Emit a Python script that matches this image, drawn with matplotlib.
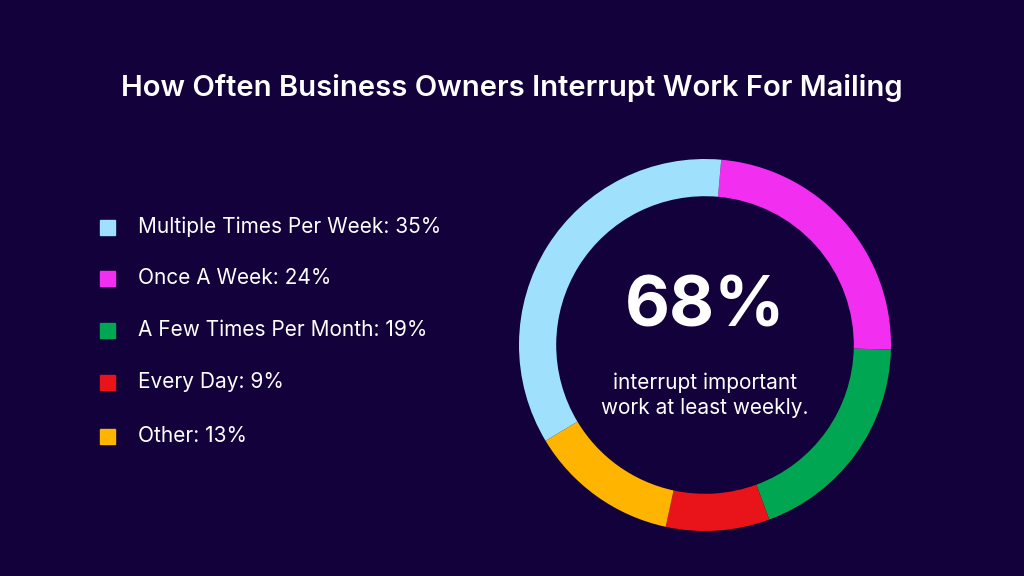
import matplotlib.pyplot as plt

plt.rcParams['font.family'] = ['Inter', 'DejaVu Sans']

# clockwise from the top of the ring
labels = ["Once A Week", "A Few Times Per Month", "Every Day", "Other", "Multiple Times Per Week"]
values = [24, 19, 9, 13, 35]
colors = ["#f22ff0", "#00a651", "#e8141a", "#ffb400", "#9fe1fd"]

legend_order = ["Multiple Times Per Week", "Once A Week", "A Few Times Per Month", "Every Day", "Other"]

bg = "#12013a"
fig = plt.figure(figsize=(10.24, 5.76), dpi=100, facecolor=bg)

fig.text(0.5, 0.848, "How Often Business Owners Interrupt Work For Mailing",
         ha="center", va="center", color="white", fontsize=21, fontweight="semibold")

# legend
ys = [227, 278, 330, 382, 436]
for name, y in zip(legend_order, ys):
    c = colors[labels.index(name)]
    v = values[labels.index(name)]
    yf = 1 - y / 576
    fig.patches.append(plt.Rectangle((100 / 1024, yf - 8 / 576), 15 / 1024, 15 / 576,
                                     transform=fig.transFigure, color=c))
    fig.text(138 / 1024, yf, f"{name}: {v}%", color="white", fontsize=15, va="center")

# donut
ax = fig.add_axes([(705 - 186) / 1024, 1 - (345 + 186) / 576, 372 / 1024, 372 / 576])
ax.set_facecolor(bg)
ax.pie(values, colors=colors, startangle=85, counterclock=False,
       wedgeprops=dict(width=0.2, linewidth=0))
ax.set_xlim(-1, 1)
ax.set_ylim(-1, 1)
ax.set_aspect("equal")
ax.text(0, 0.2, "68%", ha="center", va="center", color="white", fontsize=50, fontweight="bold")
ax.text(0, -0.27, "interrupt important\nwork at least weekly.", ha="center", va="center",
        color="white", fontsize=15, linespacing=1.3)

fig.savefig("out.png", dpi=100, facecolor=bg)
